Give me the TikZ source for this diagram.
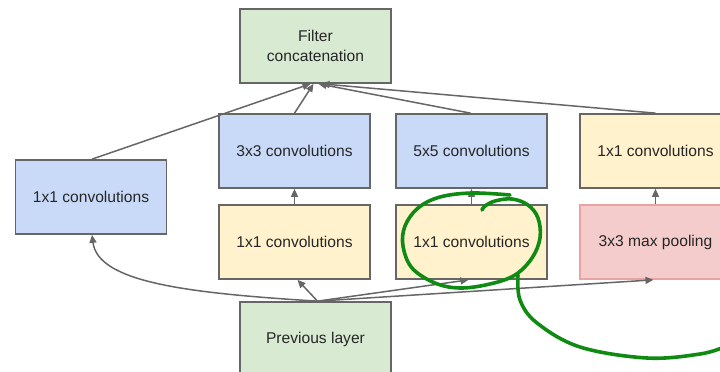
\documentclass[tikz,border=0pt]{standalone}
\usepackage{fontspec}
\setmainfont{Liberation Sans}
\usetikzlibrary{arrows.meta}
\definecolor{edgegray}{HTML}{666666}
\definecolor{convblue}{HTML}{C9DAF8}
\definecolor{redyellow}{HTML}{FFF2CC}
\definecolor{layergreen}{HTML}{D9EAD3}
\definecolor{poolpink}{HTML}{F4CCCC}
\definecolor{poolborder}{HTML}{E9A3A3}
\definecolor{penGreen}{HTML}{0F8A12}
\tikzset{
  box/.style={draw=edgegray, line width=1.7pt, minimum width=151pt, minimum height=74pt,
    inner sep=0pt, align=center, text=black!85, font=\fontsize{15.6}{20}\selectfont},
  convbox/.style={box, fill=convblue},
  reducebox/.style={box, fill=redyellow},
  layerbox/.style={box, fill=layergreen},
  poolbox/.style={box, fill=poolpink, draw=poolborder},
  flow/.style={draw=edgegray, line width=1.5pt, -{Triangle[length=8pt,width=7pt]}},
  pen/.style={draw=penGreen, line width=3.6pt, line cap=round, line join=round}
}
\begin{document}
\begin{tikzpicture}[x=1pt, y=-1pt]
\useasboundingbox (0,0) rectangle (720,372);

% boxes
\node[layerbox] (concat) at (315.5,46) {Filter\\concatenation};
\node[convbox] (left1) at (91,197) {1x1 convolutions};
\node[convbox] (conv3) at (294.5,151) {3x3 convolutions};
\node[convbox] (conv5) at (471.5,151) {5x5 convolutions};
\node[reducebox] (poolproj) at (655.5,151) {1x1 convolutions};
\node[reducebox] (red3) at (294.5,242) {1x1 convolutions};
\node[reducebox] (red5) at (471.5,242) {1x1 convolutions};
\node[poolbox] (pool) at (655.5,242) {3x3 max pooling};
\node[layerbox] (prev) at (315.5,339) {Previous layer};

% branches into the concatenation
\draw[flow] ([xshift=1pt]left1.north) -- ([xshift=-5pt]concat.south);
\draw[flow] (conv3.north) -- ([xshift=-2pt]concat.south);
\draw[flow] ([xshift=-1pt]conv5.north) -- ([xshift=3pt]concat.south);
\draw[flow] (poolproj.north) -- ([xshift=6pt]concat.south);

% second stage of each branch
\draw[flow] (red3.north) -- (conv3.south);
\draw[flow] (red5.north) -- (conv5.south);
\draw[flow] (pool.north) -- (poolproj.south);

% fan out from the previous layer
\coordinate (src) at ([xshift=2pt]prev.north);
\draw[flow] (src) .. controls (185,293) and (98,282) .. ([xshift=1pt]left1.south);
\draw[flow] (src) -- ([xshift=3pt]red3.south);
\draw[flow] (src) -- ([xshift=-3pt]red5.south);
\draw[flow] (src) -- ([xshift=-2pt]pool.south);

% green pen annotation
\draw[pen] plot[smooth, tension=0.6] coordinates {
  (510,195) (472,193) (440,197) (418,208) (405,226) (403,246) (412,268)
  (435,283) (460,288) (490,284) (515,275) (532,258) (540,238) (538,218)
  (528,205) (512,199) (495,201) (485,206) (482,210)};
\draw[pen] plot[smooth, tension=0.6] coordinates {
  (518,275) (520,300) (537,323) (580,347) (647,358) (700,354) (724,347)};
\end{tikzpicture}
\end{document}
